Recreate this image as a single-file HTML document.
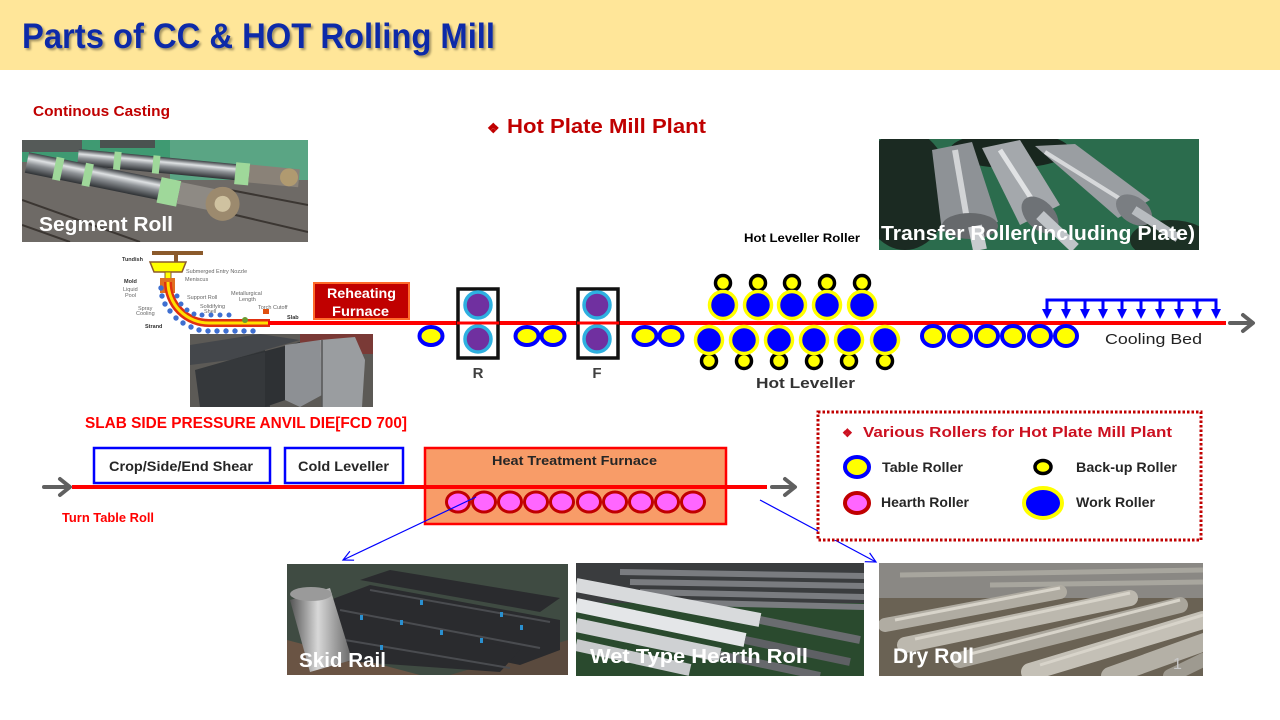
<!DOCTYPE html>
<html><head><meta charset="utf-8">
<style>
html,body{margin:0;padding:0;background:#fff;}
svg{display:block;}
text{font-family:"Liberation Sans",Arial,sans-serif;}
</style></head><body>
<svg width="1280" height="720" viewBox="0 0 1280 720" xmlns="http://www.w3.org/2000/svg">
<defs>
 <linearGradient id="silv" x1="0" y1="0" x2="0" y2="1">
  <stop offset="0" stop-color="#3c4044"/>
  <stop offset="0.3" stop-color="#dfe2e4"/>
  <stop offset="0.55" stop-color="#8e9296"/>
  <stop offset="1" stop-color="#2e3134"/>
 </linearGradient>
 <linearGradient id="silv2" x1="0" y1="0" x2="1" y2="0">
  <stop offset="0" stop-color="#50545a"/>
  <stop offset="0.4" stop-color="#c8ccd0"/>
  <stop offset="0.7" stop-color="#8a8e92"/>
  <stop offset="1" stop-color="#3a3d40"/>
 </linearGradient>
 <linearGradient id="cyl" x1="0" y1="0" x2="1" y2="0">
  <stop offset="0" stop-color="#555"/>
  <stop offset="0.45" stop-color="#d8d8d8"/>
  <stop offset="1" stop-color="#666"/>
 </linearGradient>
 <filter id="sh" x="-5%" y="-20%" width="110%" height="150%"><feDropShadow dx="2" dy="2" stdDeviation="1" flood-color="#000" flood-opacity="0.35"/></filter>
 <clipPath id="c1"><rect x="22" y="140" width="286" height="102"/></clipPath>
 <clipPath id="c2"><rect x="879" y="139" width="320" height="111"/></clipPath>
 <clipPath id="c3"><rect x="190" y="334" width="183" height="73"/></clipPath>
 <clipPath id="c4"><rect x="287" y="564" width="281" height="111"/></clipPath>
 <clipPath id="c5"><rect x="576" y="563" width="288" height="113"/></clipPath>
 <clipPath id="c6"><rect x="879" y="563" width="324" height="113"/></clipPath>
</defs>

<!-- header -->
<rect x="0" y="0" width="1280" height="70" fill="#FFE699"/>
<text x="22" y="48" font-size="35" font-weight="bold" fill="#0A2BA8" textLength="473" lengthAdjust="spacingAndGlyphs" filter="url(#sh)">Parts of CC &amp; HOT Rolling Mill</text>

<text x="33" y="116" font-size="14.5" font-weight="bold" fill="#C00000" textLength="137" lengthAdjust="spacingAndGlyphs">Continous Casting</text>
<text x="487" y="133" font-size="14" font-weight="bold" fill="#C00000">❖</text>
<text x="507" y="133" font-size="20" font-weight="bold" fill="#C00000" textLength="199" lengthAdjust="spacingAndGlyphs">Hot Plate Mill Plant</text>

<!-- Segment roll photo -->
<g clip-path="url(#c1)">
 <rect x="22" y="140" width="286" height="102" fill="#6e6a66"/>
 <rect x="22" y="140" width="286" height="22" fill="#3f9a72"/>
 <rect x="170" y="140" width="138" height="40" fill="#5aa584"/>
 <rect x="22" y="140" width="60" height="12" fill="#555a58"/>
 <rect x="100" y="140" width="55" height="8" fill="#4a5250"/>
 <g stroke="#3b3632" stroke-width="2">
  <line x1="22" y1="200" x2="140" y2="242"/>
  <line x1="22" y1="225" x2="70" y2="242"/>
  <line x1="150" y1="195" x2="308" y2="232"/>
  <line x1="230" y1="190" x2="308" y2="205"/>
 </g>
 <g transform="translate(78,157) rotate(5.5)">
  <rect x="0" y="-8" width="175" height="16" fill="url(#silv)"/>
  <rect x="36" y="-9" width="7" height="18" fill="#9fd89a"/>
  <rect x="75" y="-9" width="7" height="18" fill="#9fd89a"/>
  <rect x="158" y="-10" width="14" height="22" fill="#9fd89a"/>
  <rect x="172" y="-9" width="50" height="18" fill="#8a8278"/>
  <circle cx="212" cy="0" r="9" fill="#b09a70"/>
 </g>
 <g transform="translate(27,162) rotate(11.5)">
  <rect x="0" y="-10" width="155" height="21" fill="url(#silv)"/>
  <rect x="28" y="-11" width="8" height="23" fill="#9fd89a"/>
  <rect x="58" y="-11" width="8" height="23" fill="#9fd89a"/>
  <rect x="135" y="-12" width="20" height="26" fill="#9fd89a"/>
  <rect x="155" y="-11" width="40" height="22" fill="#8e8a84"/>
  <circle cx="200" cy="2" r="17" fill="#9c8a6e"/>
  <circle cx="200" cy="2" r="8" fill="#cfc2a0"/>
 </g>
</g>
<text x="39" y="231" font-size="20" font-weight="bold" fill="#fff" textLength="134" lengthAdjust="spacingAndGlyphs">Segment Roll</text>

<!-- Transfer roller photo -->
<g clip-path="url(#c2)">
 <rect x="879" y="139" width="320" height="111" fill="#2b6c4d"/>
 <ellipse cx="905" cy="190" rx="45" ry="60" fill="#1b2a22"/>
 <ellipse cx="1010" cy="150" rx="60" ry="18" fill="#18261e"/>
 <ellipse cx="1170" cy="240" rx="40" ry="20" fill="#1c3024"/>
 <g>
  <polygon points="1035,146 1075,144 1150,200 1118,218" fill="#9a9ea2"/>
  <line x1="1045" y1="152" x2="1130" y2="205" stroke="#d6d8da" stroke-width="4"/>
  <ellipse cx="1134" cy="210" rx="20" ry="13" transform="rotate(35 1134 210)" fill="#7a7e82"/>
  <line x1="1134" y1="210" x2="1178" y2="238" stroke="#b8bcc0" stroke-width="9"/>
 </g>
 <g>
  <polygon points="982,148 1020,140 1060,205 1020,225" fill="#a4a8ac"/>
  <line x1="1000" y1="150" x2="1040" y2="212" stroke="#e0e2e4" stroke-width="5"/>
  <ellipse cx="1040" cy="215" rx="22" ry="14" transform="rotate(45 1040 215)" fill="#6e7276"/>
  <line x1="1040" y1="215" x2="1075" y2="248" stroke="#c0c4c8" stroke-width="11"/>
 </g>
 <g>
  <polygon points="932,150 972,142 998,222 942,232" fill="#8e9296"/>
  <line x1="955" y1="150" x2="968" y2="225" stroke="#d2d4d6" stroke-width="6"/>
  <ellipse cx="970" cy="226" rx="28" ry="13" fill="#66696c"/>
  <line x1="975" y1="226" x2="980" y2="250" stroke="#c8cbce" stroke-width="14"/>
 </g>
</g>
<text x="744" y="242" font-size="12.3" font-weight="bold" fill="#000" textLength="116" lengthAdjust="spacingAndGlyphs">Hot Leveller Roller</text>
<text x="881" y="240" font-size="20" font-weight="bold" fill="#fff" textLength="314" lengthAdjust="spacingAndGlyphs">Transfer Roller(Including Plate)</text>

<!-- CC diagram -->
<g>
 <rect x="152" y="251" width="51" height="4" fill="#8B5A2B"/>
 <rect x="174" y="255" width="4" height="7" fill="#8B5A2B"/>
 <path d="M150,262 L186,262 L182,272 L154,272 Z" fill="#FFFF00" stroke="#8B5A2B" stroke-width="1.5"/>
 <rect x="165" y="272" width="6" height="13" fill="#FFFF00" stroke="#8B5A2B" stroke-width="1"/>
 <rect x="160" y="278" width="15" height="15" fill="#E07020"/>
 <path d="M168,282 A41,41 0 0 0 209,323 L270,323" fill="none" stroke="#E03010" stroke-width="8"/>
 <path d="M168,282 A41,41 0 0 0 209,323 L270,323" fill="none" stroke="#FFE000" stroke-width="3"/>
 <g fill="#3F6FD0">
  <circle cx="161" cy="288" r="2.7"/><circle cx="162" cy="296" r="2.7"/><circle cx="165" cy="304" r="2.7"/>
  <circle cx="170" cy="311" r="2.7"/><circle cx="176" cy="318" r="2.7"/><circle cx="183" cy="323" r="2.7"/>
  <circle cx="191" cy="327" r="2.7"/><circle cx="199" cy="330" r="2.7"/><circle cx="208" cy="331" r="2.7"/>
  <circle cx="217" cy="331" r="2.7"/><circle cx="226" cy="331" r="2.7"/><circle cx="235" cy="331" r="2.7"/>
  <circle cx="244" cy="331" r="2.7"/><circle cx="253" cy="331" r="2.7"/>
  <circle cx="177" cy="296" r="2.5"/><circle cx="181" cy="304" r="2.5"/><circle cx="187" cy="310" r="2.5"/>
  <circle cx="194" cy="314" r="2.5"/><circle cx="202" cy="315" r="2.5"/><circle cx="211" cy="315" r="2.5"/>
  <circle cx="220" cy="315" r="2.5"/><circle cx="229" cy="315" r="2.5"/>
 </g>
 <circle cx="245" cy="320" r="3" fill="#6a9a30"/>
 <rect x="263" y="309" width="6" height="5" fill="#E05010"/>
 <g font-size="5.5" fill="#666">
  <text x="122" y="261" font-weight="bold" fill="#333">Tundish</text>
  <text x="186" y="273">Submerged Entry Nozzle</text>
  <text x="185" y="281">Meniscus</text>
  <text x="124" y="283" font-weight="bold" fill="#333">Mold</text>
  <text x="123" y="291">Liquid</text>
  <text x="125" y="297">Pool</text>
  <text x="187" y="299">Support Roll</text>
  <text x="231" y="295">Metallurgical</text>
  <text x="239" y="301">Length</text>
  <text x="200" y="308">Solidifying</text>
  <text x="204" y="313">Shell</text>
  <text x="138" y="310">Spray</text>
  <text x="136" y="315">Cooling</text>
  <text x="258" y="309">Torch Cutoff</text>
  <text x="287" y="319" font-weight="bold" fill="#333">Slab</text>
  <text x="145" y="328" font-weight="bold" fill="#333">Strand</text>
 </g>
</g>

<!-- Reheating furnace -->
<rect x="314" y="283" width="95" height="36" fill="#C00000" stroke="#FF6A2A" stroke-width="2"/>
<text x="327" y="298" font-size="14" font-weight="bold" fill="#fff" textLength="69" lengthAdjust="spacingAndGlyphs">Reheating</text>
<text x="332" y="316" font-size="14" font-weight="bold" fill="#fff" textLength="57" lengthAdjust="spacingAndGlyphs">Furnace</text>

<!-- main line -->
<line x1="268" y1="323" x2="1226" y2="323" stroke="#FF0000" stroke-width="4"/>
<g stroke="#606060" stroke-width="4" fill="none" stroke-linecap="round" stroke-linejoin="round">
 <line x1="1230" y1="323" x2="1252" y2="323"/>
 <polyline points="1243,315 1253,323 1243,331"/>
 <line x1="44" y1="487" x2="69" y2="487"/>
 <polyline points="60,479 70,487 60,495"/>
 <line x1="772" y1="487" x2="794" y2="487"/>
 <polyline points="785,479 795,487 785,495"/>
</g>

<!-- Anvil photo -->
<g clip-path="url(#c3)">
 <rect x="190" y="334" width="183" height="73" fill="#5c5a56"/>
 <rect x="300" y="334" width="73" height="20" fill="#7a3a36"/>
 <polygon points="190,345 260,334 300,340 230,360 190,365" fill="#44474b"/>
 <polygon points="195,370 265,350 270,407 200,407" fill="#35383b"/>
 <polygon points="230,360 300,342 300,395 265,407 265,352" fill="#2e3134"/>
 <polygon points="285,345 320,340 322,395 300,407 285,400" fill="#8d9094"/>
 <polygon points="320,340 355,337 365,360 362,407 322,407" fill="#9a9da0"/>
 <line x1="322" y1="340" x2="322" y2="407" stroke="#555" stroke-width="1.5"/>
</g>
<text x="85" y="428" font-size="15.3" font-weight="bold" fill="#FF0000" textLength="322" lengthAdjust="spacingAndGlyphs">SLAB SIDE PRESSURE ANVIL DIE[FCD 700]</text>

<!-- R & F stands -->
<g>
 <rect x="458" y="289" width="40" height="69" fill="#fff" stroke="#111" stroke-width="3.5"/>
 <circle cx="478" cy="305" r="13" fill="#7030A0" stroke="#2EB0E0" stroke-width="3.5"/>
 <circle cx="478" cy="339" r="13" fill="#7030A0" stroke="#2EB0E0" stroke-width="3.5"/>
 <rect x="578" y="289" width="40" height="69" fill="#fff" stroke="#111" stroke-width="3.5"/>
 <circle cx="597" cy="305" r="13" fill="#7030A0" stroke="#2EB0E0" stroke-width="3.5"/>
 <circle cx="597" cy="339" r="13" fill="#7030A0" stroke="#2EB0E0" stroke-width="3.5"/>
 <line x1="457" y1="323" x2="499" y2="323" stroke="#FF0000" stroke-width="3"/>
 <line x1="577" y1="323" x2="619" y2="323" stroke="#FF0000" stroke-width="3"/>
</g>
<text x="478" y="378" font-size="15" font-weight="bold" fill="#404040" text-anchor="middle">R</text>
<text x="597" y="378" font-size="15" font-weight="bold" fill="#404040" text-anchor="middle">F</text>

<!-- table rollers -->
<g fill="#FFFF00" stroke="#0000FF" stroke-width="4">
 <ellipse cx="431" cy="336" rx="11.5" ry="9"/>
 <ellipse cx="527" cy="336" rx="11.5" ry="9"/>
 <ellipse cx="553" cy="336" rx="11.5" ry="9"/>
 <ellipse cx="645" cy="336" rx="11.5" ry="9"/>
 <ellipse cx="671" cy="336" rx="11.5" ry="9"/>
 <ellipse cx="933" cy="336" rx="11" ry="10"/>
 <ellipse cx="960" cy="336" rx="11" ry="10"/>
 <ellipse cx="987" cy="336" rx="11" ry="10"/>
 <ellipse cx="1013" cy="336" rx="11" ry="10"/>
 <ellipse cx="1040" cy="336" rx="11" ry="10"/>
 <ellipse cx="1066" cy="336" rx="11" ry="10"/>
</g>

<!-- hot leveller -->
<g fill="#FFFF00" stroke="#000" stroke-width="3.5">
 <circle cx="723" cy="283" r="7.5"/><circle cx="758" cy="283" r="7.5"/><circle cx="792" cy="283" r="7.5"/>
 <circle cx="827" cy="283" r="7.5"/><circle cx="862" cy="283" r="7.5"/>
 <circle cx="709" cy="361" r="7.5"/><circle cx="744" cy="361" r="7.5"/><circle cx="779" cy="361" r="7.5"/>
 <circle cx="814" cy="361" r="7.5"/><circle cx="849" cy="361" r="7.5"/><circle cx="885" cy="361" r="7.5"/>
</g>
<g fill="#0000FF" stroke="#FFFF00" stroke-width="3.5">
 <circle cx="723" cy="305" r="13.5"/><circle cx="758" cy="305" r="13.5"/><circle cx="792" cy="305" r="13.5"/>
 <circle cx="827" cy="305" r="13.5"/><circle cx="862" cy="305" r="13.5"/>
 <circle cx="709" cy="340" r="13.5"/><circle cx="744" cy="340" r="13.5"/><circle cx="779" cy="340" r="13.5"/>
 <circle cx="814" cy="340" r="13.5"/><circle cx="849" cy="340" r="13.5"/><circle cx="885" cy="340" r="13.5"/>
</g>
<line x1="690" y1="323" x2="900" y2="323" stroke="#FF0000" stroke-width="3"/>
<text x="756" y="388" font-size="15" font-weight="bold" fill="#333" textLength="99" lengthAdjust="spacingAndGlyphs">Hot Leveller</text>

<!-- cooling bed -->
<g stroke="#0000FF" stroke-width="3" fill="none">
 <polyline points="1047,311 1047,300 1216,300 1216,311"/>
 <line x1="1066" y1="300" x2="1066" y2="311"/><line x1="1085" y1="300" x2="1085" y2="311"/>
 <line x1="1103" y1="300" x2="1103" y2="311"/><line x1="1122" y1="300" x2="1122" y2="311"/>
 <line x1="1141" y1="300" x2="1141" y2="311"/><line x1="1160" y1="300" x2="1160" y2="311"/>
 <line x1="1179" y1="300" x2="1179" y2="311"/><line x1="1197" y1="300" x2="1197" y2="311"/>
</g>
<g fill="#0000FF">
 <polygon points="1042,309 1052,309 1047,319"/><polygon points="1061,309 1071,309 1066,319"/>
 <polygon points="1080,309 1090,309 1085,319"/><polygon points="1098,309 1108,309 1103,319"/>
 <polygon points="1117,309 1127,309 1122,319"/><polygon points="1136,309 1146,309 1141,319"/>
 <polygon points="1155,309 1165,309 1160,319"/><polygon points="1174,309 1184,309 1179,319"/>
 <polygon points="1192,309 1202,309 1197,319"/><polygon points="1211,309 1221,309 1216,319"/>
</g>
<text x="1105" y="344" font-size="15" fill="#222" textLength="97" lengthAdjust="spacingAndGlyphs">Cooling Bed</text>

<!-- bottom process line -->
<rect x="94" y="448" width="176" height="35" fill="#fff" stroke="#0000FF" stroke-width="2.5"/>
<text x="109" y="471" font-size="14" font-weight="bold" fill="#262626" textLength="144" lengthAdjust="spacingAndGlyphs">Crop/Side/End Shear</text>
<rect x="285" y="448" width="118" height="35" fill="#fff" stroke="#0000FF" stroke-width="2.5"/>
<text x="298" y="471" font-size="14" font-weight="bold" fill="#262626" textLength="91" lengthAdjust="spacingAndGlyphs">Cold Leveller</text>
<rect x="425" y="448" width="301" height="76" fill="#F89C68" stroke="#FF0000" stroke-width="2.5"/>
<text x="492" y="465" font-size="13" font-weight="bold" fill="#262626" textLength="165" lengthAdjust="spacingAndGlyphs">Heat Treatment Furnace</text>
<line x1="72" y1="487" x2="767" y2="487" stroke="#FF0000" stroke-width="4"/>
<g fill="#FF66FF" stroke="#C00000" stroke-width="3">
 <ellipse cx="458" cy="502" rx="11.5" ry="10"/><ellipse cx="484" cy="502" rx="11.5" ry="10"/>
 <ellipse cx="510" cy="502" rx="11.5" ry="10"/><ellipse cx="536" cy="502" rx="11.5" ry="10"/>
 <ellipse cx="562" cy="502" rx="11.5" ry="10"/><ellipse cx="589" cy="502" rx="11.5" ry="10"/>
 <ellipse cx="615" cy="502" rx="11.5" ry="10"/><ellipse cx="641" cy="502" rx="11.5" ry="10"/>
 <ellipse cx="667" cy="502" rx="11.5" ry="10"/><ellipse cx="693" cy="502" rx="11.5" ry="10"/>
</g>
<text x="62" y="522" font-size="12.7" font-weight="bold" fill="#FF0000" textLength="92" lengthAdjust="spacingAndGlyphs">Turn Table Roll</text>

<!-- blue pointer lines -->
<g stroke="#0000FF" stroke-width="1.2" fill="none">
 <line x1="476" y1="497" x2="343" y2="560"/>
 <polyline points="354.1,560.2 343,560 349.9,551.2"/>
 <line x1="760" y1="500" x2="876" y2="562"/>
 <polyline points="864.8,561.7 876,562 869.6,552.9"/>
</g>

<!-- legend -->
<rect x="818" y="412" width="383" height="128" fill="#fff" stroke="#C00000" stroke-width="3" stroke-dasharray="2.5 2"/>
<text x="842" y="437" font-size="12" font-weight="bold" fill="#CC1020">❖</text>
<text x="863" y="437" font-size="15" font-weight="bold" fill="#CC1020" textLength="309" lengthAdjust="spacingAndGlyphs">Various Rollers for Hot Plate Mill Plant</text>
<ellipse cx="857" cy="467" rx="12" ry="10" fill="#FFFF00" stroke="#0000FF" stroke-width="4"/>
<ellipse cx="1043" cy="467" rx="8" ry="6.5" fill="#FFFF00" stroke="#000" stroke-width="3.5"/>
<ellipse cx="857" cy="503" rx="12" ry="10" fill="#FF66FF" stroke="#C00000" stroke-width="4"/>
<ellipse cx="1043" cy="503" rx="19" ry="15" fill="#0000FF" stroke="#FFFF00" stroke-width="4"/>
<g font-size="14" font-weight="bold" fill="#262626">
 <text x="882" y="472" textLength="81" lengthAdjust="spacingAndGlyphs">Table Roller</text>
 <text x="1076" y="472" textLength="101" lengthAdjust="spacingAndGlyphs">Back-up Roller</text>
 <text x="881" y="507" textLength="88" lengthAdjust="spacingAndGlyphs">Hearth Roller</text>
 <text x="1076" y="507" textLength="79" lengthAdjust="spacingAndGlyphs">Work Roller</text>
</g>

<!-- Skid rail photo -->
<g clip-path="url(#c4)">
 <rect x="287" y="564" width="281" height="111" fill="#3f4b42"/>
 <polygon points="287,640 420,675 287,675" fill="#6a5444"/>
 <polygon points="450,675 568,640 568,675" fill="#5a4a3e"/>
 <g fill="#2a2b2e">
  <polygon points="330,600 370,585 560,620 560,650 520,665 330,625"/>
  <polygon points="320,630 350,610 520,650 500,672 330,660"/>
  <polygon points="360,580 390,570 560,598 540,612"/>
 </g>
 <g stroke="#4a4c50" stroke-width="2">
  <line x1="340" y1="610" x2="540" y2="648"/>
  <line x1="345" y1="640" x2="510" y2="668"/>
  <line x1="370" y1="590" x2="550" y2="622"/>
 </g>
 <g fill="#2a90d0">
  <rect x="360" y="615" width="3" height="5"/><rect x="400" y="620" width="3" height="5"/>
  <rect x="440" y="630" width="3" height="5"/><rect x="480" y="638" width="3" height="5"/>
  <rect x="420" y="600" width="3" height="5"/><rect x="500" y="612" width="3" height="5"/>
  <rect x="520" y="625" width="3" height="5"/><rect x="380" y="645" width="3" height="5"/>
 </g>
 <polygon points="290,600 330,588 352,660 310,672" fill="url(#cyl)"/>
 <ellipse cx="311" cy="594" rx="21" ry="7" fill="#9a9a9a"/>
</g>
<text x="299" y="667" font-size="20" font-weight="bold" fill="#fff" textLength="87" lengthAdjust="spacingAndGlyphs">Skid Rail</text>

<!-- Wet type hearth roll photo -->
<g clip-path="url(#c5)">
 <rect x="576" y="563" width="288" height="113" fill="#2a4a2e"/>
 <rect x="576" y="563" width="288" height="40" fill="#3a3c3e"/>
 <g stroke="#7a7c80" stroke-width="6">
  <line x1="620" y1="572" x2="864" y2="576"/>
  <line x1="630" y1="582" x2="864" y2="586"/>
  <line x1="640" y1="592" x2="864" y2="597"/>
  <line x1="660" y1="602" x2="864" y2="607"/>
 </g>
 <g stroke-linecap="butt">
  <line x1="576" y1="585" x2="760" y2="620" stroke="#d8dadc" stroke-width="14"/>
  <line x1="760" y1="620" x2="860" y2="640" stroke="#6a6c70" stroke-width="8"/>
  <line x1="576" y1="605" x2="745" y2="640" stroke="#e4e6e8" stroke-width="14"/>
  <line x1="745" y1="640" x2="850" y2="662" stroke="#5e6064" stroke-width="8"/>
  <line x1="576" y1="625" x2="720" y2="655" stroke="#cfd1d3" stroke-width="14"/>
  <line x1="720" y1="655" x2="820" y2="676" stroke="#66686c" stroke-width="8"/>
  <line x1="576" y1="645" x2="690" y2="670" stroke="#c8cacc" stroke-width="12"/>
 </g>
</g>
<text x="590" y="663" font-size="20" font-weight="bold" fill="#fff" textLength="218" lengthAdjust="spacingAndGlyphs">Wet Type Hearth Roll</text>

<!-- Dry roll photo -->
<g clip-path="url(#c6)">
 <rect x="879" y="563" width="324" height="113" fill="#6a6254"/>
 <rect x="879" y="563" width="324" height="35" fill="#8a8884"/>
 <g stroke="#a8a69e" stroke-width="5">
  <line x1="900" y1="575" x2="1203" y2="570"/>
  <line x1="990" y1="585" x2="1203" y2="582"/>
 </g>
 <g stroke-linecap="round">
  <line x1="885" y1="625" x2="1060" y2="592" stroke="#b0aca2" stroke-width="14"/>
  <line x1="905" y1="645" x2="1130" y2="598" stroke="#bcb8ae" stroke-width="16"/>
  <line x1="960" y1="660" x2="1180" y2="605" stroke="#aaa69c" stroke-width="16"/>
  <line x1="1030" y1="672" x2="1203" y2="620" stroke="#c4c0b6" stroke-width="18"/>
  <line x1="1110" y1="676" x2="1210" y2="640" stroke="#b4b0a6" stroke-width="18"/>
  <line x1="1170" y1="676" x2="1203" y2="660" stroke="#9e9a90" stroke-width="14"/>
 </g>
 <g stroke="#d8d4ca" stroke-width="3">
  <line x1="895" y1="620" x2="1060" y2="588"/>
  <line x1="915" y1="639" x2="1130" y2="593"/>
  <line x1="970" y1="654" x2="1180" y2="600"/>
  <line x1="1040" y1="665" x2="1203" y2="615"/>
 </g>
</g>
<text x="893" y="663" font-size="21" font-weight="bold" fill="#fff" textLength="81" lengthAdjust="spacingAndGlyphs">Dry Roll</text>
<text x="1173" y="669" font-size="16" fill="#c8c8c8">1</text>
</svg>
</body></html>
